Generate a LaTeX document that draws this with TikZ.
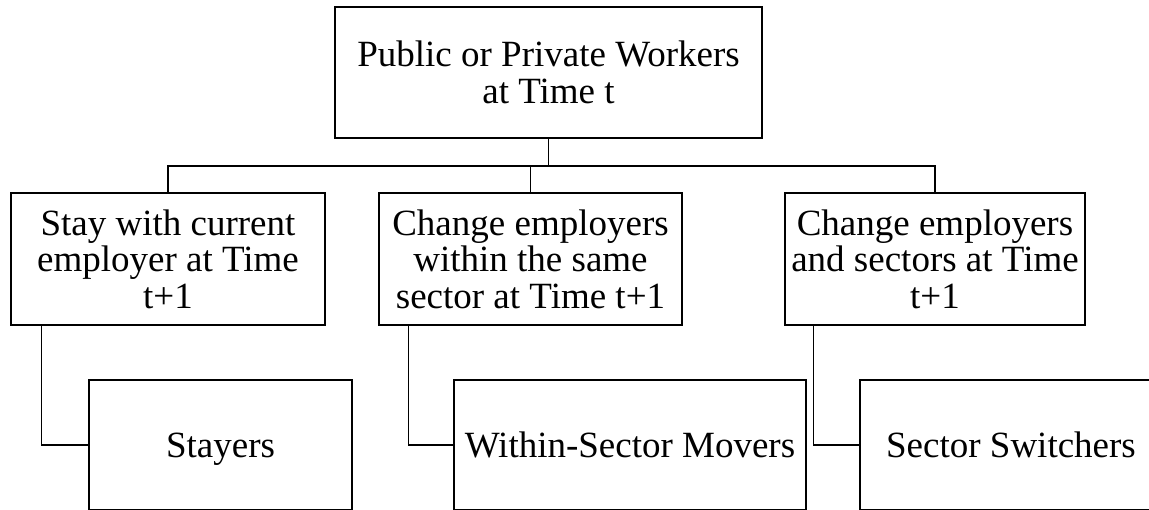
\documentclass[tikz,border=0pt]{standalone}
\usepackage{fontspec}
\setmainfont{Liberation Serif}
\tikzset{
  box/.style={draw, line width=2.3pt, inner sep=0pt, align=center, anchor=center},
  leaf/.style={box, minimum height=130pt, text height=25pt, text depth=0pt, font=\fontsize{37}{38}\selectfont},
  mbox/.style={box, minimum height=132pt, font=\fontsize{37}{36.5}\selectfont},
  conn/.style={line width=1.2pt},
}
\begin{document}
\begin{tikzpicture}[x=1pt,y=-1pt]
\useasboundingbox (0,0) rectangle (1149,510);
\clip (0,0) rectangle (1149,510);
\node[box, minimum width=427pt, minimum height=131pt, font=\fontsize{37}{37.5}\selectfont] (top) at (548.5,72.5) {Public or Private Workers\\at Time t};
\node[mbox, minimum width=314pt] (left) at (168,259) {Stay with current\\employer at Time\\t+1};
\node[mbox, minimum width=303pt] (mid) at (530.5,259) {Change employers\\within the same\\sector at Time t+1};
\node[mbox, minimum width=300pt] (right) at (935,259) {Change employers\\and sectors at Time\\t+1};
\node[leaf, minimum width=263pt] (stay) at (220.5,445) {Stayers};
\node[leaf, minimum width=352pt] (within) at (630,445) {Within-Sector Movers};
\node[leaf, minimum width=302pt] (switch) at (1011,445) {Sector Switchers};
\coordinate (bus) at (548.5,166);
\draw[conn] (top.south) -- (bus);
\draw[conn] (left.north) |- (bus) -| (right.north);
\draw[conn] (mid.north) -- (mid.north |- bus);
\draw[conn] ([xshift=32pt]left.south west) |- (stay.west);
\draw[conn] ([xshift=31pt]mid.south west) |- (within.west);
\draw[conn] ([xshift=30pt]right.south west) |- (switch.west);
\end{tikzpicture}
\end{document}
